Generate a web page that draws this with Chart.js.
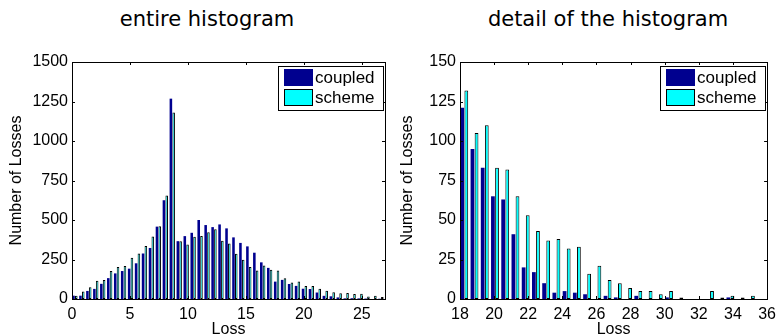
<!DOCTYPE html>
<html>
<head>
<meta charset="utf-8">
<script src="https://cdn.jsdelivr.net/npm/chart.js@4.4.0/dist/chart.umd.min.js"></script>
<style>
  body { margin: 0; background: #fff; }
  #wrap { position: relative; width: 782px; height: 336px; overflow: hidden; background: #fff; }
  .title { position: absolute; top: 9px; font-family: "DejaVu Sans", sans-serif; font-size: 21px; line-height: 21px;
           color: #000; white-space: nowrap; transform: translateX(-50%); }
  .panel { position: absolute; top: 0; width: 391px; height: 336px; }
</style>
</head>
<body>
<div id="wrap">
  <div class="title" style="left:207px">entire histogram</div>
  <div class="title" style="left:608px">detail of the histogram</div>
  <div class="panel" style="left:0"><canvas id="entire" width="391" height="336"></canvas></div>
  <div class="panel" style="left:391px"><canvas id="detail" width="391" height="336"></canvas></div>
</div>
<script>
// bin centres (Loss) and counts
const entireBins = [0.25, 0.85, 1.45, 2.05, 2.65, 3.25, 3.85, 4.45, 5.05, 5.65,
  6.25, 6.85, 7.45, 8.05, 8.65, 9.25, 9.85, 10.45, 11.05, 11.65,
  12.25, 12.85, 13.45, 14.05, 14.65, 15.25, 15.85, 16.45, 17.05, 17.65,
  18.25, 18.85, 19.45, 20.05, 20.65, 21.25, 21.85, 22.45, 23.05, 23.65,
  24.25, 24.85, 25.45, 26.05, 26.65];
const entireCoupled = [21, 21, 51, 64, 96, 132, 162, 177, 192, 226,
  288, 323, 458, 625, 1268, 366, 398, 419, 500, 468,
  455, 472, 447, 390, 355, 333, 293, 232, 197, 110,
  121, 95, 83, 65, 63, 41, 20, 17, 10, 4,
  5, 4, 3, 0, 2];
const entireScheme = [21, 47, 75, 115, 120, 177, 203, 209, 261, 288,
  335, 395, 461, 655, 1180, 366, 345, 394, 398, 423,
  442, 369, 352, 286, 249, 202, 181, 212, 185, 181,
  132, 105, 110, 83, 82, 65, 53, 43, 37, 38,
  32, 33, 16, 21, 12];

const detailBins = [18.25, 18.85, 19.45, 20.05, 20.65, 21.25, 21.85, 22.45, 23.05, 23.65,
  24.25, 24.85, 25.45, 26.05, 26.65, 27.25, 27.85, 28.45, 29.05, 29.65,
  30.25, 30.85, 31.45, 32.05, 32.65, 33.25, 33.85, 34.45, 35.05, 35.65];
const detailCoupled = [121, 95, 83, 65, 63, 41, 20, 17, 10, 4,
  5, 4, 3, 0, 2, 1, 0, 2, 0, 0,
  1, 0, 0, 0, 0, 0, 1, 0, 0, 0];
const detailScheme = [132, 105, 110, 83, 82, 65, 53, 43, 37, 38,
  32, 33, 16, 21, 12, 10, 7, 5, 5, 3,
  5, 1, 0, 0, 5, 1, 2, 1, 2, 0];

// tick labels
const entireXTicks = [0, 5, 10, 15, 20, 25];
const entireYTicks = [0, 250, 500, 750, 1000, 1250, 1500];
const detailXTicks = [18, 20, 22, 24, 26, 28, 30, 32, 34, 36];
const detailYTicks = [0, 25, 50, 75, 100, 125, 150];

Chart.defaults.font.family = '"Liberation Sans", Arial, sans-serif';
Chart.defaults.font.size = 16;
Chart.defaults.color = '#000';

// matlab style box: full frame, inward ticks on all four sides, legend inside top right
const matlabAxes = {
  id: 'matlabAxes',
  afterDatasetsDraw(chart) {
    const { ctx, chartArea: a, scales } = chart;
    const tl = 3;
    ctx.save();
    ctx.strokeStyle = '#000';
    ctx.lineWidth = 1;
    ctx.beginPath();
    scales.x.ticks.forEach(t => {
      const px = Math.round(scales.x.getPixelForValue(t.value)) + 0.5;
      ctx.moveTo(px, a.bottom); ctx.lineTo(px, a.bottom - tl);
      ctx.moveTo(px, a.top); ctx.lineTo(px, a.top + tl);
    });
    scales.y.ticks.forEach(t => {
      const py = Math.round(scales.y.getPixelForValue(t.value)) + 0.5;
      ctx.moveTo(a.left, py); ctx.lineTo(a.left + tl, py);
      ctx.moveTo(a.right, py); ctx.lineTo(a.right - tl, py);
    });
    ctx.stroke();
    ctx.strokeRect(Math.round(a.left) + 0.5, Math.round(a.top) + 0.5,
      Math.round(a.right - a.left), Math.round(a.bottom - a.top));

    // legend box
    const w = 105, h = 44;
    const bx = Math.round(a.right) - 2 - w, by = Math.round(a.top) + 4;
    ctx.fillStyle = '#fff';
    ctx.fillRect(bx, by, w, h);
    ctx.strokeRect(bx + 0.5, by + 0.5, w, h);
    ctx.font = '17px "Liberation Sans", Arial, sans-serif';
    ctx.textBaseline = 'middle';
    chart.data.datasets.forEach((ds, i) => {
      const sx = bx + 6, sy = by + 3 + i * 20;
      ctx.fillStyle = ds.backgroundColor;
      ctx.fillRect(sx, sy, 29, 17);
      if (ds.borderWidth) {
        ctx.strokeStyle = ds.borderColor;
        ctx.strokeRect(sx + 0.5, sy + 0.5, 28, 16);
        ctx.strokeStyle = '#000';
      }
      ctx.fillStyle = '#000';
      ctx.fillText(ds.label, sx + 31, sy + 9);
    });
    ctx.restore();
  }
};

function histogram(id, bins, coupled, scheme, xTicks, yTicks, yAxisWidth, rightPad) {
  const ctx = document.getElementById(id).getContext('2d');
  return new Chart(ctx, {
    type: 'bar',
    data: {
      datasets: [{
        label: 'coupled',
        data: bins.map((b, i) => ({ x: b, y: coupled[i] })),
        backgroundColor: '#00008f',
        borderWidth: 0,
        categoryPercentage: 0.8,
        barPercentage: 0.92
      }, {
        label: 'scheme',
        data: bins.map((b, i) => ({ x: b, y: scheme[i] })),
        backgroundColor: '#00ffff',
        borderColor: '#000',
        borderWidth: 1,
        borderSkipped: false,
        categoryPercentage: 0.8,
        barPercentage: 0.92
      }]
    },
    options: {
      responsive: false,
      animation: false,
      devicePixelRatio: 1,
      layout: { padding: { top: 62, right: rightPad, bottom: 0, left: 0 } },
      plugins: { legend: { display: false }, tooltip: { enabled: false } },
      scales: {
        x: {
          type: 'linear',
          offset: false,
          min: xTicks[0],
          max: id === 'entire' ? 27 : xTicks[xTicks.length - 1],
          grid: { display: false, drawTicks: false },
          border: { display: false },
          ticks: { maxRotation: 0, autoSkip: false, padding: 6, callback: v => String(v) },
          afterBuildTicks: s => { s.ticks = xTicks.map(v => ({ value: v })); },
          afterFit: s => { s.height = 37; },
          title: { display: true, text: 'Loss', padding: 0, font: { size: 16, lineHeight: 0.75 } }
        },
        y: {
          min: yTicks[0],
          max: yTicks[yTicks.length - 1],
          grid: { display: false, drawTicks: false },
          border: { display: false },
          ticks: { padding: 4, callback: v => String(v) },
          afterBuildTicks: s => { s.ticks = yTicks.map(v => ({ value: v })); },
          afterFit: s => { s.width = yAxisWidth; },
          title: { display: true, text: 'Number of Losses', padding: { top: 7, bottom: 0 }, font: { size: 16 } }
        }
      }
    },
    plugins: [matlabAxes]
  });
}

histogram('entire', entireBins, entireCoupled, entireScheme, entireXTicks, entireYTicks, 72, 6);
histogram('detail', detailBins, detailCoupled, detailScheme, detailXTicks, detailYTicks, 69, 10);
</script>
</body>
</html>
